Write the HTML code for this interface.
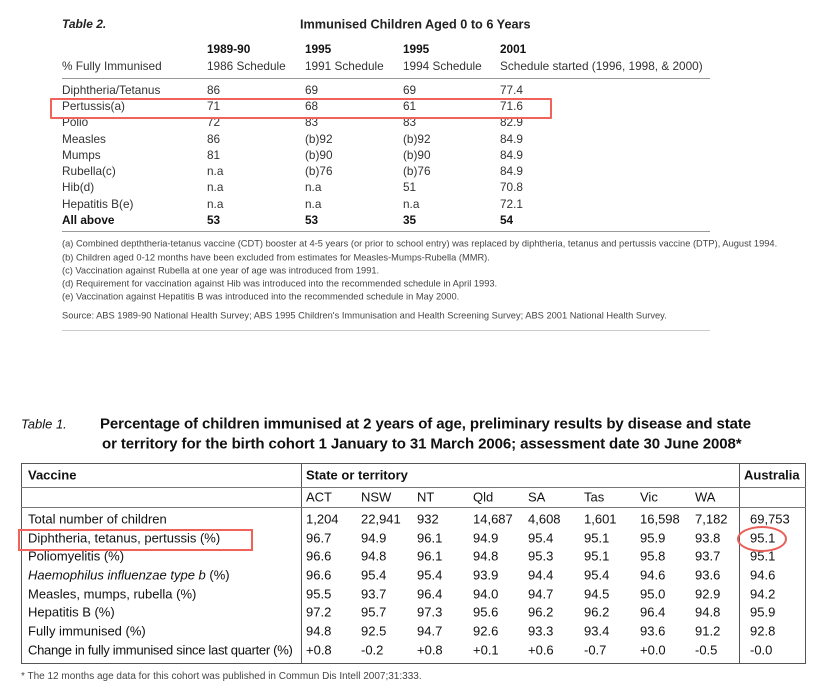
<!DOCTYPE html>
<html><head><meta charset="utf-8"><style>
body{margin:0;width:826px;height:694px;background:#fff;position:relative;overflow:hidden;font-family:"Liberation Sans",sans-serif;color:#222}
.t{position:absolute;white-space:nowrap;line-height:1;transform:translateY(-50%)}
.a{font-size:11.8px;color:#333}
.b{font-size:13px;color:#111}
.f{font-size:9.3px;color:#444}
.bold{font-weight:bold}
.hl{position:absolute;height:0}
</style></head><body>
<!-- Table 2 -->
<div class="t bold" style="left:62px;top:24px;font-size:12px;font-style:italic">Table 2.</div>
<div class="t bold" style="left:300px;top:25px;font-size:12.7px">Immunised Children Aged 0 to 6 Years</div>
<div class="t a bold" style="left:207px;top:50px;color:#111">1989-90</div>
<div class="t a bold" style="left:305px;top:50px;color:#111">1995</div>
<div class="t a bold" style="left:403px;top:50px;color:#111">1995</div>
<div class="t a bold" style="left:500px;top:50px;color:#111">2001</div>
<div class="t a" style="left:62px;top:67px">% Fully Immunised</div>
<div class="t a" style="left:207px;top:67px">1986 Schedule</div>
<div class="t a" style="left:305px;top:67px">1991 Schedule</div>
<div class="t a" style="left:403px;top:67px">1994 Schedule</div>
<div class="t a" style="left:500px;top:67px">Schedule started (1996, 1998, &amp; 2000)</div>
<div class="hl" style="left:62px;width:648px;top:78px;border-top:1.5px solid #999"></div>

<div class="t a" style="left:62px;top:91px">Diphtheria/Tetanus</div><div class="t a" style="left:207px;top:91px">86</div><div class="t a" style="left:305px;top:91px">69</div><div class="t a" style="left:403px;top:91px">69</div><div class="t a" style="left:500px;top:91px">77.4</div>
<div class="t a" style="left:62px;top:107px">Pertussis(a)</div><div class="t a" style="left:207px;top:107px">71</div><div class="t a" style="left:305px;top:107px">68</div><div class="t a" style="left:403px;top:107px">61</div><div class="t a" style="left:500px;top:107px">71.6</div>
<div class="t a" style="left:62px;top:123px">Polio</div><div class="t a" style="left:207px;top:123px">72</div><div class="t a" style="left:305px;top:123px">83</div><div class="t a" style="left:403px;top:123px">83</div><div class="t a" style="left:500px;top:123px">82.9</div>
<div class="t a" style="left:62px;top:140px">Measles</div><div class="t a" style="left:207px;top:140px">86</div><div class="t a" style="left:305px;top:140px">(b)92</div><div class="t a" style="left:403px;top:140px">(b)92</div><div class="t a" style="left:500px;top:140px">84.9</div>
<div class="t a" style="left:62px;top:156px">Mumps</div><div class="t a" style="left:207px;top:156px">81</div><div class="t a" style="left:305px;top:156px">(b)90</div><div class="t a" style="left:403px;top:156px">(b)90</div><div class="t a" style="left:500px;top:156px">84.9</div>
<div class="t a" style="left:62px;top:172px">Rubella(c)</div><div class="t a" style="left:207px;top:172px">n.a</div><div class="t a" style="left:305px;top:172px">(b)76</div><div class="t a" style="left:403px;top:172px">(b)76</div><div class="t a" style="left:500px;top:172px">84.9</div>
<div class="t a" style="left:62px;top:188px">Hib(d)</div><div class="t a" style="left:207px;top:188px">n.a</div><div class="t a" style="left:305px;top:188px">n.a</div><div class="t a" style="left:403px;top:188px">51</div><div class="t a" style="left:500px;top:188px">70.8</div>
<div class="t a" style="left:62px;top:205px">Hepatitis B(e)</div><div class="t a" style="left:207px;top:205px">n.a</div><div class="t a" style="left:305px;top:205px">n.a</div><div class="t a" style="left:403px;top:205px">n.a</div><div class="t a" style="left:500px;top:205px">72.1</div>
<div class="t a bold" style="left:62px;top:221px;color:#111">All above</div><div class="t a bold" style="left:207px;top:221px;color:#111">53</div><div class="t a bold" style="left:305px;top:221px;color:#111">53</div><div class="t a bold" style="left:403px;top:221px;color:#111">35</div><div class="t a bold" style="left:500px;top:221px;color:#111">54</div>
<div class="hl" style="left:62px;width:648px;top:231px;border-top:1.5px solid #999"></div>
<div style="position:absolute;left:50px;top:98px;width:498px;height:17px;border:2px solid #f0625a;border-radius:1px"></div>

<div class="t f" style="left:62px;top:244px">(a) Combined depththeria-tetanus vaccine (CDT) booster at 4-5 years (or prior to school entry) was replaced by diphtheria, tetanus and pertussis vaccine (DTP), August 1994.</div>
<div class="t f" style="left:62px;top:258px">(b) Children aged 0-12 months have been excluded from estimates for Measles-Mumps-Rubella (MMR).</div>
<div class="t f" style="left:62px;top:271px">(c) Vaccination against Rubella at one year of age was introduced from 1991.</div>
<div class="t f" style="left:62px;top:284px">(d) Requirement for vaccination against Hib was introduced into the recommended schedule in April 1993.</div>
<div class="t f" style="left:62px;top:297px">(e) Vaccination against Hepatitis B was introduced into the recommended schedule in May 2000.</div>
<div class="t f" style="left:62px;top:316px">Source: ABS 1989-90 National Health Survey; ABS 1995 Children's Immunisation and Health Screening Survey; ABS 2001 National Health Survey.</div>
<div class="hl" style="left:62px;width:648px;top:330px;border-top:1.5px solid #ccc"></div>

<!-- Table 1 -->
<div class="t" style="left:21px;top:424px;font-size:13px;font-style:italic;color:#111">Table 1.</div>
<div class="t bold" style="left:100px;top:424px;font-size:15px;color:#111;letter-spacing:-0.1px">Percentage of children immunised at 2 years of age, preliminary results by disease and state</div>
<div class="t bold" style="left:102px;top:444px;font-size:15px;color:#111;letter-spacing:-0.1px">or territory for the birth cohort 1 January to 31 March 2006; assessment date 30 June 2008*</div>

<div style="position:absolute;left:21px;top:463px;width:785px;height:201px;border:1px solid #555;box-sizing:border-box"></div>
<div style="position:absolute;left:301px;top:463px;width:0;height:201px;border-left:1px solid #555"></div>
<div style="position:absolute;left:739px;top:463px;width:0;height:201px;border-left:1px solid #555"></div>
<div class="hl" style="left:21px;width:785px;top:487px;border-top:1px solid #777"></div>
<div class="hl" style="left:21px;width:785px;top:507px;border-top:1px solid #777"></div>

<div class="t b bold" style="left:28px;top:475px">Vaccine</div>
<div class="t b bold" style="left:306px;top:475px">State or territory</div>
<div class="t b bold" style="left:744px;top:475px">Australia</div>
<div class="t b" style="left:306px;top:497px">ACT</div><div class="t b" style="left:361px;top:497px">NSW</div><div class="t b" style="left:417px;top:497px">NT</div><div class="t b" style="left:473px;top:497px">Qld</div><div class="t b" style="left:528px;top:497px">SA</div><div class="t b" style="left:584px;top:497px">Tas</div><div class="t b" style="left:640px;top:497px">Vic</div><div class="t b" style="left:695px;top:497px">WA</div>

<div class="t b" style="left:28px;top:519px">Total number of children</div>
<div class="t b" style="left:306px;top:519px">1,204</div><div class="t b" style="left:361px;top:519px">22,941</div><div class="t b" style="left:417px;top:519px">932</div><div class="t b" style="left:473px;top:519px">14,687</div><div class="t b" style="left:528px;top:519px">4,608</div><div class="t b" style="left:584px;top:519px">1,601</div><div class="t b" style="left:640px;top:519px">16,598</div><div class="t b" style="left:695px;top:519px">7,182</div><div class="t b" style="left:750px;top:519px">69,753</div>

<div class="t b" style="left:28px;top:538px">Diphtheria, tetanus, pertussis (%)</div>
<div class="t b" style="left:306px;top:538px">96.7</div><div class="t b" style="left:361px;top:538px">94.9</div><div class="t b" style="left:417px;top:538px">96.1</div><div class="t b" style="left:473px;top:538px">94.9</div><div class="t b" style="left:528px;top:538px">95.4</div><div class="t b" style="left:584px;top:538px">95.1</div><div class="t b" style="left:640px;top:538px">95.9</div><div class="t b" style="left:695px;top:538px">93.8</div><div class="t b" style="left:750px;top:538px">95.1</div>

<div class="t b" style="left:28px;top:556px">Poliomyelitis (%)</div>
<div class="t b" style="left:306px;top:556px">96.6</div><div class="t b" style="left:361px;top:556px">94.8</div><div class="t b" style="left:417px;top:556px">96.1</div><div class="t b" style="left:473px;top:556px">94.8</div><div class="t b" style="left:528px;top:556px">95.3</div><div class="t b" style="left:584px;top:556px">95.1</div><div class="t b" style="left:640px;top:556px">95.8</div><div class="t b" style="left:695px;top:556px">93.7</div><div class="t b" style="left:750px;top:556px">95.1</div>

<div class="t b" style="left:28px;top:575px"><i>Haemophilus influenzae type b</i> (%)</div>
<div class="t b" style="left:306px;top:575px">96.6</div><div class="t b" style="left:361px;top:575px">95.4</div><div class="t b" style="left:417px;top:575px">95.4</div><div class="t b" style="left:473px;top:575px">93.9</div><div class="t b" style="left:528px;top:575px">94.4</div><div class="t b" style="left:584px;top:575px">95.4</div><div class="t b" style="left:640px;top:575px">94.6</div><div class="t b" style="left:695px;top:575px">93.6</div><div class="t b" style="left:750px;top:575px">94.6</div>

<div class="t b" style="left:28px;top:594px">Measles, mumps, rubella (%)</div>
<div class="t b" style="left:306px;top:594px">95.5</div><div class="t b" style="left:361px;top:594px">93.7</div><div class="t b" style="left:417px;top:594px">96.4</div><div class="t b" style="left:473px;top:594px">94.0</div><div class="t b" style="left:528px;top:594px">94.7</div><div class="t b" style="left:584px;top:594px">94.5</div><div class="t b" style="left:640px;top:594px">95.0</div><div class="t b" style="left:695px;top:594px">92.9</div><div class="t b" style="left:750px;top:594px">94.2</div>

<div class="t b" style="left:28px;top:612px">Hepatitis B (%)</div>
<div class="t b" style="left:306px;top:612px">97.2</div><div class="t b" style="left:361px;top:612px">95.7</div><div class="t b" style="left:417px;top:612px">97.3</div><div class="t b" style="left:473px;top:612px">95.6</div><div class="t b" style="left:528px;top:612px">96.2</div><div class="t b" style="left:584px;top:612px">96.2</div><div class="t b" style="left:640px;top:612px">96.4</div><div class="t b" style="left:695px;top:612px">94.8</div><div class="t b" style="left:750px;top:612px">95.9</div>

<div class="t b" style="left:28px;top:631px">Fully immunised (%)</div>
<div class="t b" style="left:306px;top:631px">94.8</div><div class="t b" style="left:361px;top:631px">92.5</div><div class="t b" style="left:417px;top:631px">94.7</div><div class="t b" style="left:473px;top:631px">92.6</div><div class="t b" style="left:528px;top:631px">93.3</div><div class="t b" style="left:584px;top:631px">93.4</div><div class="t b" style="left:640px;top:631px">93.6</div><div class="t b" style="left:695px;top:631px">91.2</div><div class="t b" style="left:750px;top:631px">92.8</div>

<div class="t b" style="left:28px;top:650px;letter-spacing:-0.3px">Change in fully immunised since last quarter (%)</div>
<div class="t b" style="left:306px;top:650px">+0.8</div><div class="t b" style="left:361px;top:650px">-0.2</div><div class="t b" style="left:417px;top:650px">+0.8</div><div class="t b" style="left:473px;top:650px">+0.1</div><div class="t b" style="left:528px;top:650px">+0.6</div><div class="t b" style="left:584px;top:650px">-0.7</div><div class="t b" style="left:640px;top:650px">+0.0</div><div class="t b" style="left:695px;top:650px">-0.5</div><div class="t b" style="left:750px;top:650px">-0.0</div>

<div style="position:absolute;left:18px;top:529px;width:231px;height:18px;border:2px solid #f0625a"></div>
<div style="position:absolute;left:737px;top:526px;width:46px;height:22px;border:2px solid #e8605a;border-radius:50%"></div>

<div class="t f" style="left:21px;top:677px;font-size:10px">* The 12 months age data for this cohort was published in Commun Dis Intell 2007;31:333.</div>
</body></html>
